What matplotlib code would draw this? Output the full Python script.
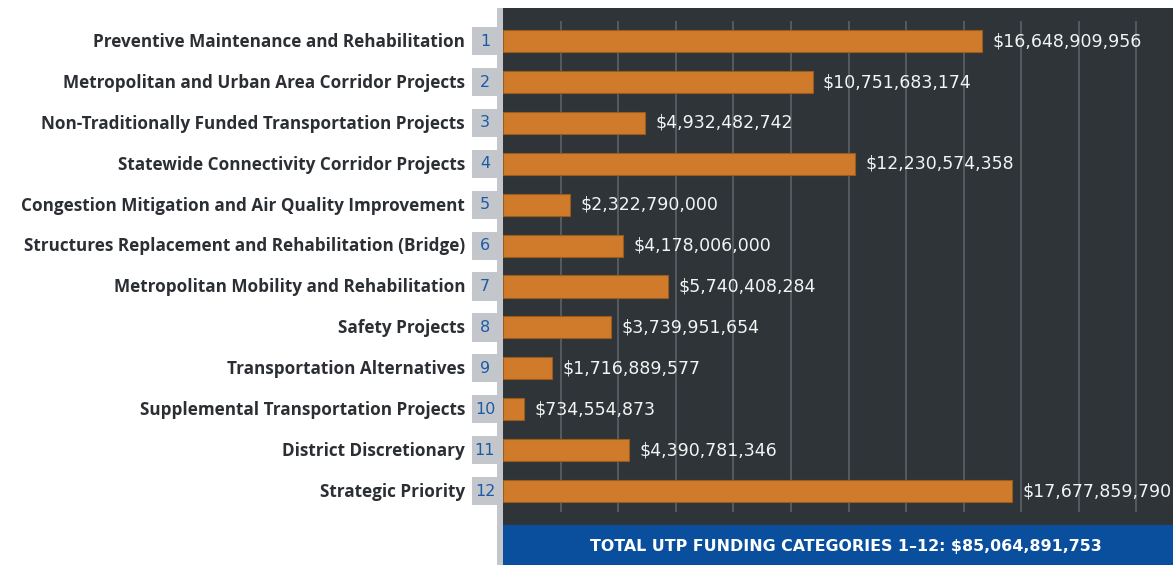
import matplotlib.pyplot as plt
import matplotlib.transforms as mtransforms
from matplotlib.patches import Rectangle

categories = [
    "Preventive Maintenance and Rehabilitation",
    "Metropolitan and Urban Area Corridor Projects",
    "Non-Traditionally Funded Transportation Projects",
    "Statewide Connectivity Corridor Projects",
    "Congestion Mitigation and Air Quality Improvement",
    "Structures Replacement and Rehabilitation (Bridge)",
    "Metropolitan Mobility and Rehabilitation",
    "Safety Projects",
    "Transportation Alternatives",
    "Supplemental Transportation Projects",
    "District Discretionary",
    "Strategic Priority",
]
numbers = ["1", "2", "3", "4", "5", "6", "7", "8", "9", "10", "11", "12"]
funding = [16648909956, 10751683174, 4932482742, 12230574358, 2322790000,
           4178006000, 5740408284, 3739951654, 1716889577, 734554873,
           4390781346, 17677859790]
total_label = "TOTAL UTP FUNDING CATEGORIES 1\u201312: $85,064,891,753"
grid_ticks = [2e9 * k for k in range(1, 12)]

W, H = 1173, 565
fig = plt.figure(figsize=(W / 100, H / 100), dpi=100)
fig.patch.set_facecolor("white")

# dark panel
ax = fig.add_axes([503 / W, 40 / H, 670 / W, (525 - 8) / H])
ax.set_facecolor("#2f3438")
for s in ax.spines.values():
    s.set_visible(False)
ax.set_xticks([])
ax.set_yticks([])

ypos = list(range(len(funding)))
ax.vlines(grid_ticks, -0.5, 11.5, color="#5b6166", lw=1.2, zorder=1)
ax.barh(ypos, funding, height=0.54, color="#cf7b2b", edgecolor="#9c5a1c",
        lw=0.8, zorder=2)
ax.set_xlim(0, 23.27e9)
ax.set_ylim(11.83, -0.81)

for y, v in zip(ypos, funding):
    ax.annotate(f"${v:,.0f}", (v, y), xytext=(7.5, 0), textcoords="offset points",
                va="center", ha="left", color="#f4f4f4", fontsize=12.5,
                family="DejaVu Sans")

# labels and number boxes on the left
trans = mtransforms.blended_transform_factory(ax.transAxes, ax.transData)
for y, lab, n in zip(ypos, categories, numbers):
    ax.text(-38 / 670, y + 0.02, lab, transform=trans, ha="right", va="center",
            fontsize=12.3, fontweight="bold", color="#2b2f33", family="Open Sans",
            clip_on=False)
    ax.add_patch(Rectangle((-31 / 670, y - 0.345), 26 / 670, 0.69,
                           transform=trans, color="#c3c7cb", clip_on=False, lw=0))
    ax.text(-18 / 670, y, n, transform=trans, ha="center", va="center",
            fontsize=11.5, color="#1c5aa6", family="DejaVu Sans", clip_on=False)

# gray strip left of panel
fig.patches.append(Rectangle((497 / W, 0), 6 / W, (565 - 8) / H,
                             transform=fig.transFigure, color="#c3c7cb", lw=0))
# blue total band
fig.patches.append(Rectangle((503 / W, 0), 670 / W, 40 / H,
                             transform=fig.transFigure, color="#0a4f9e", lw=0))
fig.text(846 / W, 19 / H, total_label, ha="center", va="center", color="white",
         fontsize=11.4, fontweight="bold", family="DejaVu Sans")

fig.savefig("out.png", dpi=100)
